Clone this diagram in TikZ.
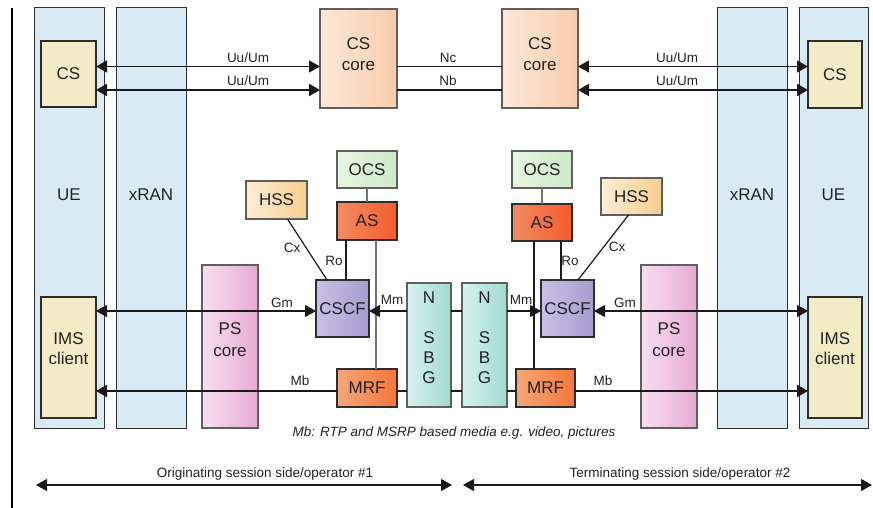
\documentclass[tikz,border=0pt]{standalone}
\usepackage{fontspec}
\setmainfont{Liberation Sans}
\usetikzlibrary{arrows.meta}

\definecolor{txt}{RGB}{34,34,34}
\definecolor{edge}{RGB}{45,45,45}
\definecolor{softedge}{RGB}{95,95,95}
\definecolor{colblue}{RGB}{216,235,245}
\definecolor{cream}{RGB}{244,236,198}
\definecolor{peachA}{RGB}{253,232,216}
\definecolor{peachB}{RGB}{248,204,172}
\definecolor{hssA}{RGB}{253,238,214}
\definecolor{hssB}{RGB}{246,206,140}
\definecolor{ocsA}{RGB}{232,245,228}
\definecolor{ocsB}{RGB}{206,234,200}
\definecolor{asA}{RGB}{242,140,98}
\definecolor{asB}{RGB}{244,92,44}
\definecolor{cscfA}{RGB}{200,192,230}
\definecolor{cscfB}{RGB}{166,156,208}
\definecolor{mrfA}{RGB}{246,166,120}
\definecolor{mrfB}{RGB}{244,118,58}
\definecolor{sbgA}{RGB}{214,242,238}
\definecolor{sbgB}{RGB}{160,218,208}
\definecolor{psA}{RGB}{248,222,240}
\definecolor{psB}{RGB}{230,170,212}

\begin{document}
\begin{tikzpicture}[x=1pt,y=-1pt,
  every node/.style={inner sep=0pt, outer sep=0pt, text=txt},
  column/.style={draw=edge, line width=1pt, fill=colblue, minimum width=70pt, minimum height=420pt},
  box/.style={draw=edge, line width=1.4pt, font=\fontsize{17}{21}\selectfont},
  softbox/.style={box, draw=softedge},
  boxtext/.style={align=center, font=\fontsize{17}{21}\selectfont},
  lbl/.style={font=\fontsize{13.5}{15}\selectfont},
  note/.style={font=\fontsize{13.5}{16}\selectfont},
  thin/.style={draw=black!90, line width=1.2pt},
  fat/.style={draw=black!90, line width=2.3pt},
  tip/.style={-{Triangle[length=11pt,width=12pt]}},
  tips/.style={{Triangle[length=11pt,width=12pt]}-{Triangle[length=11pt,width=12pt]}},
  grayline/.style={draw=black!55, line width=1.2pt},
]
\useasboundingbox (0,0) rectangle (873,508);

% left margin rule
\draw[line width=1.6pt] (12,8) -- (12,508);

% terminal and access columns
\node[column] (ueL)   at (69,218)    {};
\node[column] (xranL) at (151,218)   {};
\node[column] (xranR) at (752,218)   {};
\node[column, minimum width=69pt] (ueR) at (833.5,218) {};
\node[boxtext] at (69,195)    {UE};
\node[boxtext] at (151,195)   {xRAN};
\node[boxtext] at (752,195)   {xRAN};
\node[boxtext] at (833.5,195) {UE};

% user equipment functions
\node[box, fill=cream, minimum width=55pt, minimum height=66pt]  (csL)  at (68.5,74)    {CS};
\node[box, fill=cream, minimum width=55pt, minimum height=121pt] (imsL) at (68.5,357.5) {};
\node[box, fill=cream, minimum width=54pt, minimum height=67pt]  (csR)  at (835,74.5)   {CS};
\node[box, fill=cream, minimum width=54pt, minimum height=121pt] (imsR) at (835,357.5) {};
\node[boxtext, font=\fontsize{17}{20}\selectfont] at (68.5,349) {IMS\\client};
\node[boxtext, font=\fontsize{17}{20}\selectfont] at (835,349)  {IMS\\client};

% packet cores
\node[softbox, left color=psA, right color=psB, minimum width=56pt, minimum height=163pt] (psL) at (230,346.5) {};
\node[softbox, left color=psA, right color=psB, minimum width=56pt, minimum height=163pt] (psR) at (669,346.5) {};
\node[boxtext, font=\fontsize{17}{22}\selectfont] at (230,340) {PS\\core};
\node[boxtext, font=\fontsize{17}{22}\selectfont] at (669,340) {PS\\core};

% circuit switched cores
\node[softbox, left color=peachA, right color=peachB, minimum width=77pt, minimum height=99pt] (coreL) at (358.5,58.5) {};
\node[softbox, left color=peachA, right color=peachB, minimum width=76pt, minimum height=99pt] (coreR) at (540,58.5) {};
\node[boxtext] at (358.5,54) {CS\\core};
\node[boxtext] at (540,54)   {CS\\core};

% IMS core, originating side
\node[softbox, left color=hssA, right color=hssB, minimum width=61pt, minimum height=38pt] (hssL) at (276.5,200) {HSS};
\node[softbox, left color=ocsA, right color=ocsB, minimum width=60pt, minimum height=37pt] (ocsL) at (367,169.5) {OCS};
\node[box, left color=asA, right color=asB, minimum width=60pt, minimum height=38pt] (asL) at (367,221) {AS};
\node[box, left color=cscfA, right color=cscfB, minimum width=53pt, minimum height=57pt] (cscfL) at (342.5,308.5) {CSCF};
\node[box, left color=mrfA, right color=mrfB, minimum width=60pt, minimum height=38pt] (mrfL) at (367,388) {MRF};
\node[softbox, left color=sbgA, right color=sbgB, minimum width=44pt, minimum height=124pt] (sbgL) at (429,345) {};
\node[boxtext, font=\fontsize{17}{20}\selectfont] at (429,338) {N\\[20pt]S\\B\\G};

% IMS core, terminating side
\node[softbox, left color=sbgA, right color=sbgB, minimum width=45pt, minimum height=124pt] (sbgR) at (484.5,345) {};
\node[boxtext, font=\fontsize{17}{20}\selectfont] at (484.5,338) {N\\[20pt]S\\B\\G};
\node[softbox, left color=ocsA, right color=ocsB, minimum width=60pt, minimum height=37pt] (ocsR) at (542,169.5) {OCS};
\node[box, left color=asA, right color=asB, minimum width=60pt, minimum height=37pt] (asR) at (542,222.5) {AS};
\node[softbox, left color=hssA, right color=hssB, minimum width=61pt, minimum height=37pt] (hssR) at (631.5,196.5) {HSS};
\node[box, left color=cscfA, right color=cscfB, minimum width=53pt, minimum height=57pt] (cscfR) at (567.5,308.5) {CSCF};
\node[box, left color=mrfA, right color=mrfB, minimum width=59pt, minimum height=38pt] (mrfR) at (545.5,388) {MRF};

% rows used by the horizontal interfaces
\coordinate (rowA) at (0,66.5);
\coordinate (rowB) at (0,90);
\coordinate (rowGm) at (0,311);
\coordinate (rowMb) at (0,391);

% circuit switched bearers
\draw[thin, tips] (csL.east |- rowA) -- (coreL.west |- rowA);
\draw[fat, tips]  (csL.east |- rowB) -- (coreL.west |- rowB);
\draw[thin] (coreL.east |- rowA) -- (coreR.west |- rowA);
\draw[fat]  (coreL.east |- rowB) -- (coreR.west |- rowB);
\draw[thin, tips] (coreR.east |- rowA) -- (csR.west |- rowA);
\draw[fat, tips]  (coreR.east |- rowB) -- (csR.west |- rowB);
\node[lbl] at (248,57.5) {Uu/Um};
\node[lbl] at (248,81)   {Uu/Um};
\node[lbl] at (448,57.5) {Nc};
\node[lbl] at (448,81)   {Nb};
\node[lbl] at (677,57.5) {Uu/Um};
\node[lbl] at (677,81)   {Uu/Um};

% control plane, originating side
\draw[grayline] (ocsL) -- (asL);
\draw[thin] ([xshift=11pt]hssL.south) -- ([xshift=-15.5pt]cscfL.north);
\draw[thin] ([xshift=-21pt]asL.south) -- ([xshift=-21pt]asL.south |- cscfL.north);
\draw[grayline] ([xshift=9pt]asL.south) -- ([xshift=9pt]asL.south |- mrfL.north);
\draw[thin, tips] (imsL.east |- rowGm) -- (cscfL.west |- rowGm);
\draw[thin, tip] (sbgL.west |- rowGm) -- (cscfL.east |- rowGm);
\node[lbl] at (292,248) {Cx};
\node[lbl] at (334,261) {Ro};
\node[lbl] at (282,303) {Gm};
\node[lbl] at (392,299.5) {Mm};

% control plane, terminating side
\draw[grayline] (ocsR) -- (asR);
\draw[thin] ([xshift=-3pt]hssR.south) -- ([xshift=10.5pt]cscfR.north);
\draw[thin] ([xshift=19pt]asR.south) -- ([xshift=19pt]asR.south |- cscfR.north);
\draw[thin] ([xshift=-8pt]asR.south) -- ([xshift=-8pt]asR.south |- mrfR.north);
\draw[thin, tip] (sbgR.east |- rowGm) -- (cscfR.west |- rowGm);
\draw[thin, tips] (cscfR.east |- rowGm) -- (imsR.west |- rowGm);
\node[lbl] at (617,247) {Cx};
\node[lbl] at (570,261) {Ro};
\node[lbl] at (625,303) {Gm};
\node[lbl] at (521,299.5) {Mm};

% border gateways
\draw[thin] (sbgL.east |- rowGm) -- (sbgR.west |- rowGm);
\draw[fat]  (sbgL.east |- rowMb) -- (sbgR.west |- rowMb);

% media plane
\draw[fat, tip] (mrfL.west |- rowMb) -- (imsL.east |- rowMb);
\draw[fat] (mrfL.east |- rowMb) -- (sbgL.west |- rowMb);
\draw[fat] (sbgR.east |- rowMb) -- (mrfR.west |- rowMb);
\draw[fat, tip] (mrfR.east |- rowMb) -- (imsR.west |- rowMb);
\node[lbl] at (300,381) {Mb};
\node[lbl] at (603,381) {Mb};
\node[note, font=\fontsize{13.5}{16}\selectfont\itshape] at (454,433) {Mb: RTP and MSRP based media e.g. video, pictures};

% operator domains
\coordinate (origA) at (36,485);
\coordinate (origB) at (452,485);
\coordinate (termA) at (463,485);
\coordinate (termB) at (872,485);
\draw[thin, tips] (origA) -- (origB);
\draw[thin, tips] (termA) -- (termB);
\node[note] at (265,474) {Originating session side/operator \#1};
\node[note] at (680,474) {Terminating session side/operator \#2};
\end{tikzpicture}
\end{document}
